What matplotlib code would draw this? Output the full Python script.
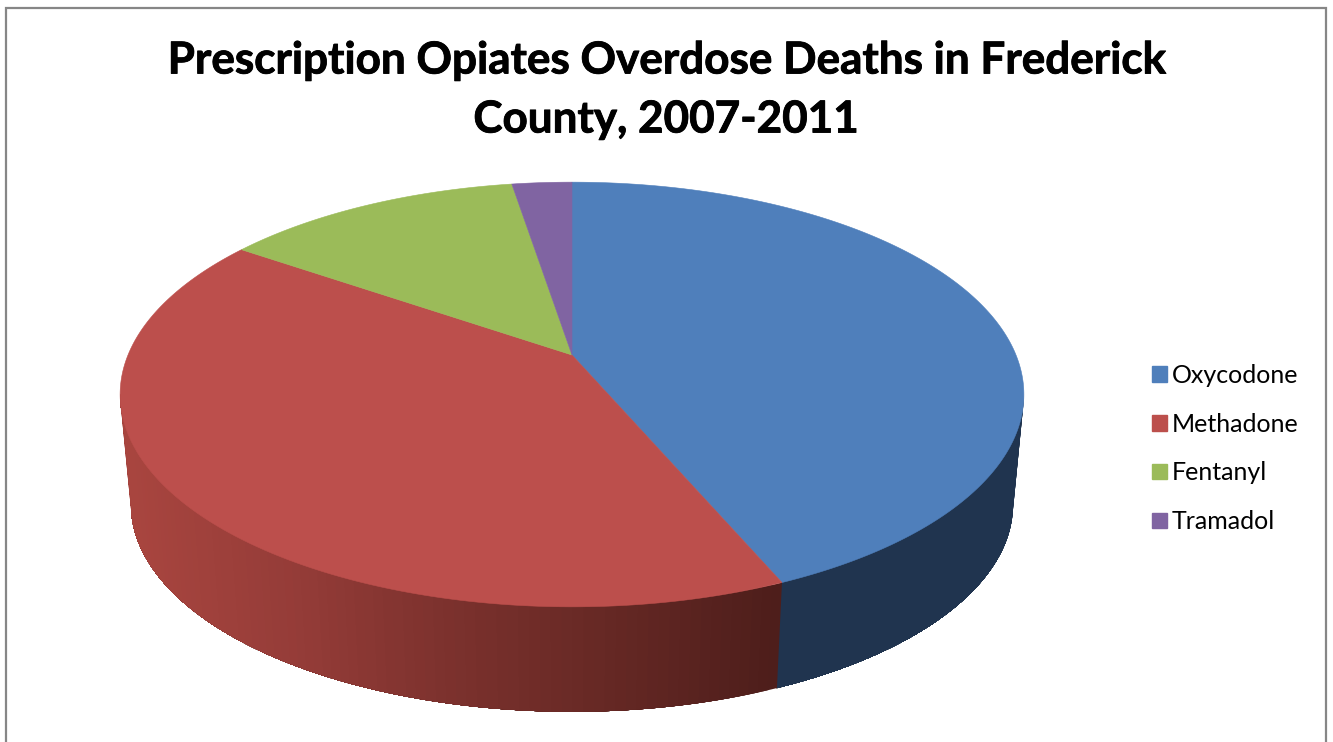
import numpy as np
import matplotlib
matplotlib.use("Agg")
import matplotlib.pyplot as plt
import matplotlib.patheffects as pe
from matplotlib.colors import LinearSegmentedColormap, Normalize
from matplotlib.patches import Patch

title = "Prescription Opiates Overdose Deaths in Frederick\nCounty, 2007-2011"
drugs = ["Oxycodone", "Methadone", "Fentanyl", "Tramadol"]
deaths = [17, 16, 5, 1]
top_colors = ["#4F7FBB", "#BC4F4C", "#9BBB59", "#8064A2"]

W, H = 1333, 742
fig = plt.figure(figsize=(W / 100, H / 100), dpi=100, facecolor="white")
ax = fig.add_axes([0, 0, 1, 1])
ax.set_xlim(0, W)
ax.set_ylim(H, 0)
ax.axis("off")

# perspective projection of the unit disc
C, A, D = 0.186, 205.0, 444.0
def project(theta, r=1.0, cx=572.0, cy=355.0, s=1.0):
    u, v = r * np.sin(theta), r * np.cos(theta)
    w = 1 + C * v
    return cx + s * D * u / w, cy - s * A * v / w

LOW = dict(cy=466.0, s=0.976)
red_wall = LinearSegmentedColormap.from_list(
    "rw", ["#A8453F", "#953C38", "#7B312D", "#652824", "#4E1E1B"])
blue_wall = LinearSegmentedColormap.from_list("bw", ["#1F3450", "#20344F"])
walls = {0: blue_wall, 1: red_wall}
norm = Normalize(130, 775)

edges = np.cumsum([0] + deaths) / sum(deaths) * 2 * np.pi
th_right = np.arctan2(np.sqrt(1 - C * C), -C)
th_left = 2 * np.pi - th_right

# side wall: each band reaches to the slice's far end, so later bands overpaint any seam
for i, (a, b) in enumerate(zip(edges[:-1], edges[1:])):
    lo, hi = max(a, th_right), min(b, th_left)
    if lo >= hi:
        continue
    ts = np.linspace(lo, hi, 90)
    for k in range(len(ts) - 1):
        arc = np.linspace(ts[k], hi, max(2, 90 - k))
        x0, y0 = project(arc)
        x1, y1 = project(arc[::-1], **LOW)
        mid = 0.5 * (project(ts[k])[0] + project(ts[k + 1])[0])
        col = walls[i](norm(mid))
        ax.fill(np.r_[x0, x1], np.r_[y0, y1], facecolor=col, edgecolor="none", zorder=2 + i * 0.1)

# top faces
for a, b, col in zip(edges[:-1], edges[1:], top_colors):
    ts = np.linspace(a, b, 300)
    x, y = project(ts)
    x0, y0 = project(0.0, r=0.0)
    ax.fill(np.r_[x0, x], np.r_[y0, y], color=col, lw=0.4, zorder=3)

# chart frame (open at the bottom, clipped by the picture)
ax.plot([6, 6, 1326, 1326], [H + 5, 8, 8, H + 5], color="#868686", lw=1.6, zorder=1,
        solid_joinstyle="miter")

heavier = [pe.withStroke(linewidth=0.6, foreground="black")]
for line, yc in zip(title.split("\n"), (60.5, 119.5)):
    ax.text(666, yc, line, ha="center", va="center", fontsize=31.7, fontweight="bold",
            family="Lato", color="black", path_effects=heavier)

handles = [Patch(color=c, label=d) for c, d in zip(top_colors, drugs)]
ax.legend(handles=handles, loc="center left", bbox_to_anchor=(1152 / W, 1 - 448.5 / H),
          frameon=False, prop={"family": "Lato", "size": 18},
          handlelength=0.58, handleheight=0.58, handletextpad=0.22,
          labelspacing=1.03, borderpad=0, borderaxespad=0)

fig.savefig("out.png", dpi=100, facecolor="white")
